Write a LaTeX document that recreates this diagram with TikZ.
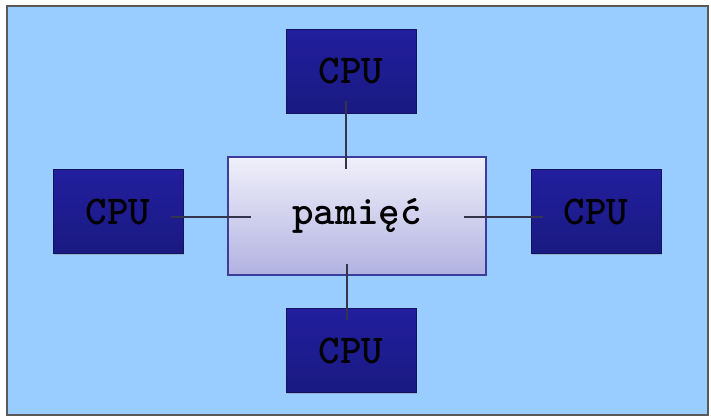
\documentclass[tikz,border=0pt]{standalone}
\usepackage{fontspec}
\usetikzlibrary{shadows}
\definecolor{bgblue}{HTML}{99CCFF}
\definecolor{cputop}{HTML}{221E9E}
\definecolor{cpubot}{HTML}{1A1A82}
\definecolor{cpuline}{HTML}{14145E}
\definecolor{memtop}{HTML}{F0F0FA}
\definecolor{membot}{HTML}{B2B2E2}
\definecolor{memline}{HTML}{3C3C9C}
\definecolor{wire}{HTML}{34344A}
\tikzset{
  cpubox/.style={draw=cpuline, line width=1pt, top color=cputop, bottom color=cpubot,
    minimum width=130pt, minimum height=84pt, inner sep=0pt,
    font=\fontsize{41}{43}\selectfont\ttfamily\bfseries, text=black,
    drop shadow={shadow xshift=1.2pt, shadow yshift=-1.2pt, opacity=0.35}},
  membox/.style={draw=memline, line width=1.2pt, top color=memtop, bottom color=membot,
    minimum width=258pt, minimum height=118pt, inner sep=0pt,
    font=\fontsize{41}{43}\selectfont\ttfamily\bfseries, text=black,
    drop shadow={shadow xshift=1.2pt, shadow yshift=-1.2pt, opacity=0.35}},
  wireline/.style={draw=wire, line width=2pt}
}
\begin{document}
\begin{tikzpicture}[x=1pt, y=-1pt]
\useasboundingbox (0,0) rectangle (711,418);
\fill[white] (0,0) rectangle (711,418);
\node[draw=gray!70!black, line width=2.2pt, fill=bgblue, minimum width=701pt, minimum height=409pt, inner sep=0pt] (bg) at (357.5,210.5) {};
\node[membox] (mem) at (357,216) {pamięć};
\node[cpubox] (cpuT) at (351,71) {CPU};
\node[cpubox] (cpuL) at (118,211.5) {CPU};
\node[cpubox] (cpuR) at (596,211.5) {CPU};
\node[cpubox] (cpuB) at (351,350.5) {CPU};
% wire end points
\coordinate (mW) at ([xshift=24pt,yshift=-1pt]mem.west);
\coordinate (mE) at ([xshift=-23pt,yshift=-1pt]mem.east);
\coordinate (mN) at ([xshift=-11pt,yshift=-13pt]mem.north);
\coordinate (mS) at ([xshift=-10pt,yshift=12pt]mem.south);
\coordinate (lE) at ([xshift=-13pt]cpuL.east);
\coordinate (rW) at ([xshift=12pt]cpuR.west);
\coordinate (tS) at ([yshift=13pt]cpuT.south);
\coordinate (bN) at ([yshift=-12pt]cpuB.north);
\draw[wireline] (lE |- mW) -- (mW);
\draw[wireline] (mE) -- (rW |- mE);
\draw[wireline] (mN |- tS) -- (mN);
\draw[wireline] (mS) -- (mS |- bN);
\end{tikzpicture}
\end{document}
